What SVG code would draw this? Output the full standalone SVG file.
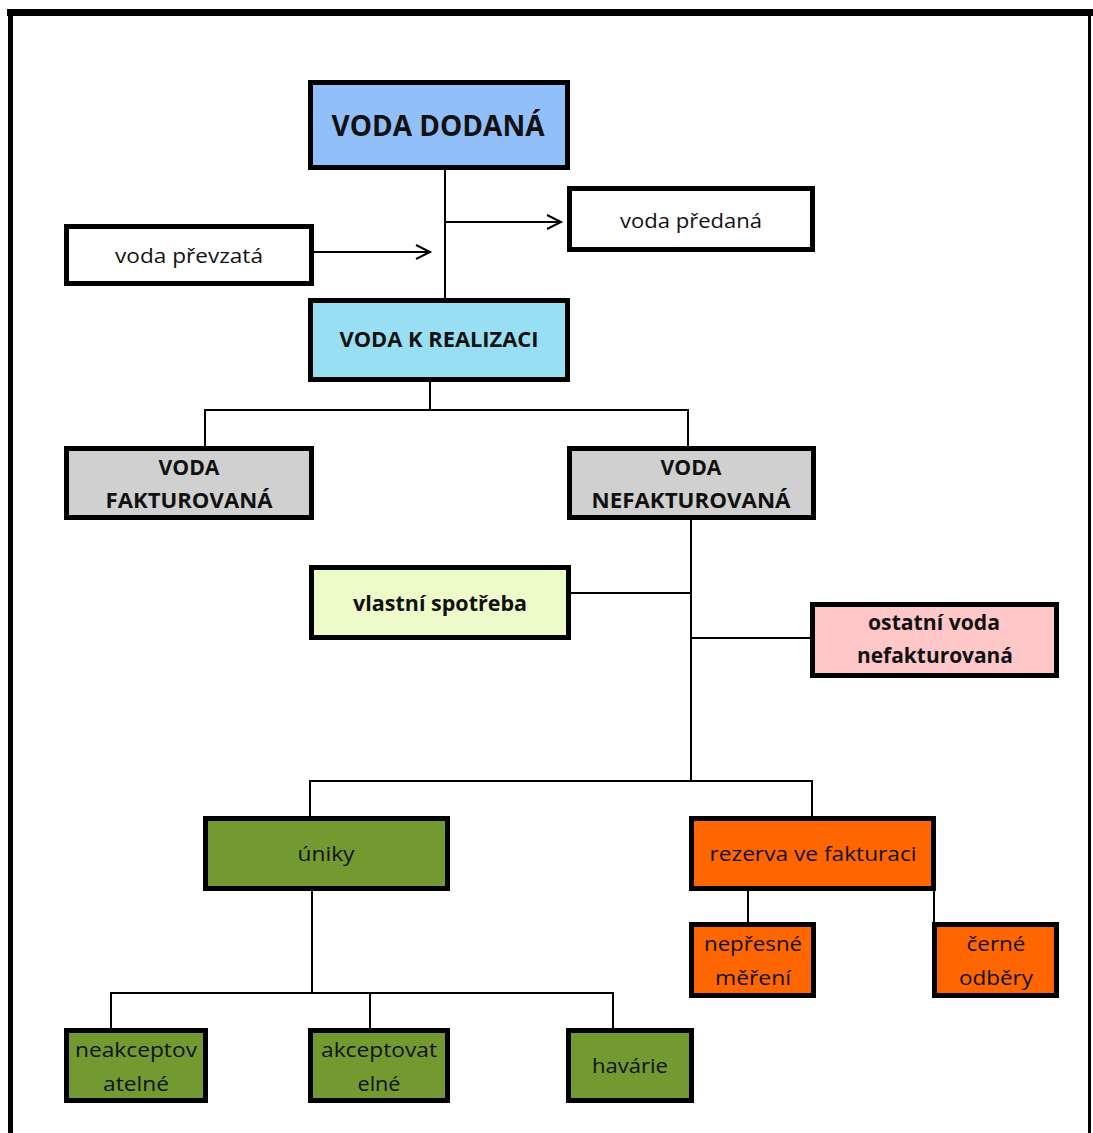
<svg xmlns="http://www.w3.org/2000/svg" width="1093" height="1133" viewBox="0 0 1093 1133">
<defs>
<style>
.box{stroke:#000;stroke-width:5}
.t{font-family:"Open Sans","Noto Sans","Liberation Sans",sans-serif;font-size:20px;fill:#111;text-anchor:middle}
.b{font-weight:bold;font-size:21px}
.c{stroke:#000;stroke-width:2;fill:none}
</style>
<marker id="arr" markerUnits="userSpaceOnUse" markerWidth="20" markerHeight="20" refX="15" refY="8" orient="auto">
<path d="M1,1 L15,8 L1,15" fill="none" stroke="#000" stroke-width="2"/>
</marker>
</defs>
<rect width="1093" height="1133" fill="#fff"/>
<g id="frame" fill="#000">
<rect x="7" y="9" width="1086" height="7"/>
<rect x="8" y="9" width="5" height="1124"/>
<rect x="1088" y="9" width="3" height="1124"/>
</g>
<g id="connectors" class="c">
<line x1="445" y1="169" x2="445" y2="299"/>
<line x1="446" y1="222" x2="561" y2="222" marker-end="url(#arr)"/>
<line x1="313" y1="252" x2="430" y2="252" marker-end="url(#arr)"/>
<line x1="430" y1="381" x2="430" y2="410"/>
<line x1="204" y1="410" x2="689" y2="410"/>
<line x1="205" y1="409" x2="205" y2="447"/>
<line x1="688" y1="409" x2="688" y2="447"/>
<line x1="691" y1="519" x2="691" y2="782"/>
<line x1="570" y1="593" x2="691" y2="593"/>
<line x1="691" y1="638" x2="811" y2="638"/>
<line x1="309" y1="781" x2="813" y2="781"/>
<line x1="310" y1="780" x2="310" y2="817"/>
<line x1="812" y1="780" x2="812" y2="817"/>
<line x1="312" y1="889" x2="312" y2="993"/>
<line x1="110" y1="993" x2="614" y2="993"/>
<line x1="111" y1="992" x2="111" y2="1029"/>
<line x1="370" y1="993" x2="370" y2="1029"/>
<line x1="613" y1="992" x2="613" y2="1029"/>
<line x1="748" y1="889" x2="748" y2="923"/>
<line x1="934" y1="889" x2="934" y2="923"/>
</g>
<g id="voda-dodana">
<rect class="box" x="310.5" y="82.5" width="257" height="85" fill="#91BFF9"/>
<text class="t b" x="438" y="136" style="font-size:28px" textLength="213" lengthAdjust="spacingAndGlyphs">VODA DODANÁ</text>
</g>
<g id="voda-predana">
<rect class="box" x="569.5" y="188.5" width="243" height="61" fill="#fff"/>
<text class="t" x="691" y="228" textLength="142" lengthAdjust="spacingAndGlyphs">voda předaná</text>
</g>
<g id="voda-prevzata">
<rect class="box" x="66.5" y="226.5" width="245" height="57" fill="#fff"/>
<text class="t" x="189" y="263" textLength="148" lengthAdjust="spacingAndGlyphs">voda převzatá</text>
</g>
<g id="voda-k-realizaci">
<rect class="box" x="310.5" y="300.5" width="257" height="79" fill="#99DFF3"/>
<text class="t b" x="439" y="347" textLength="199" lengthAdjust="spacingAndGlyphs">VODA K REALIZACI</text>
</g>
<g id="voda-fakturovana">
<rect class="box" x="66.5" y="448.5" width="245" height="69" fill="#D0D0D0"/>
<text class="t b" x="189" y="475" textLength="61" lengthAdjust="spacingAndGlyphs">VODA</text>
<text class="t b" x="189" y="508" textLength="167" lengthAdjust="spacingAndGlyphs">FAKTUROVANÁ</text>
</g>
<g id="voda-nefakturovana">
<rect class="box" x="569.5" y="448.5" width="244" height="69" fill="#D0D0D0"/>
<text class="t b" x="691" y="475" textLength="61" lengthAdjust="spacingAndGlyphs">VODA</text>
<text class="t b" x="691" y="508" textLength="199" lengthAdjust="spacingAndGlyphs">NEFAKTUROVANÁ</text>
</g>
<g id="vlastni-spotreba">
<rect class="box" x="311.5" y="567.5" width="257" height="70" fill="#EDFAC9"/>
<text class="t b" x="440" y="611" textLength="174" lengthAdjust="spacingAndGlyphs">vlastní spotřeba</text>
</g>
<g id="ostatni-voda">
<rect class="box" x="812.5" y="604.5" width="244" height="71" fill="#FFC7C8"/>
<text class="t b" x="934" y="630" textLength="132" lengthAdjust="spacingAndGlyphs">ostatní voda</text>
<text class="t b" x="935" y="663" textLength="156" lengthAdjust="spacingAndGlyphs">nefakturovaná</text>
</g>
<g id="uniky">
<rect class="box" x="205.5" y="818.5" width="242" height="70" fill="#729A30"/>
<text class="t" x="326" y="861" textLength="57" lengthAdjust="spacingAndGlyphs">úniky</text>
</g>
<g id="rezerva">
<rect class="box" x="691.5" y="818.5" width="242" height="70" fill="#FF6600"/>
<text class="t" x="813" y="861" textLength="207" lengthAdjust="spacingAndGlyphs">rezerva ve fakturaci</text>
</g>
<g id="nepresne">
<rect class="box" x="691.5" y="924.5" width="122" height="71" fill="#FF6600"/>
<text class="t" x="753" y="951" textLength="98" lengthAdjust="spacingAndGlyphs">nepřesné</text>
<text class="t" x="753" y="985" textLength="76" lengthAdjust="spacingAndGlyphs">měření</text>
</g>
<g id="cerne">
<rect class="box" x="934.5" y="924.5" width="122" height="71" fill="#FF6600"/>
<text class="t" x="996" y="951" textLength="59" lengthAdjust="spacingAndGlyphs">černé</text>
<text class="t" x="996" y="985" textLength="74" lengthAdjust="spacingAndGlyphs">odběry</text>
</g>
<g id="neakceptovatelne">
<rect class="box" x="66.5" y="1030.5" width="139" height="70" fill="#729A30"/>
<text class="t" x="136" y="1057" textLength="122" lengthAdjust="spacingAndGlyphs">neakceptov</text>
<text class="t" x="136" y="1091" textLength="66" lengthAdjust="spacingAndGlyphs">atelné</text>
</g>
<g id="akceptovatelne">
<rect class="box" x="310.5" y="1030.5" width="137" height="70" fill="#729A30"/>
<text class="t" x="379" y="1057" textLength="116" lengthAdjust="spacingAndGlyphs">akceptovat</text>
<text class="t" x="379" y="1091" textLength="43" lengthAdjust="spacingAndGlyphs">elné</text>
</g>
<g id="havarie">
<rect class="box" x="568.5" y="1030.5" width="123" height="70" fill="#729A30"/>
<text class="t" x="630" y="1073" textLength="76" lengthAdjust="spacingAndGlyphs">havárie</text>
</g>
</svg>
